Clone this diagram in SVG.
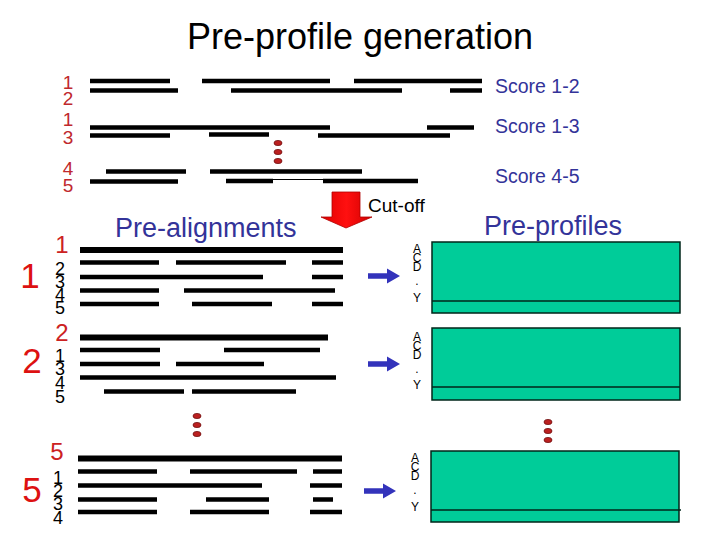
<svg xmlns="http://www.w3.org/2000/svg" width="720" height="540" viewBox="0 0 720 540">
<defs>
<style>
.t{font-family:"Liberation Sans",Arial,sans-serif}
.title{font-size:36px;fill:#000;text-anchor:middle}
.rn{font-size:19px;fill:#C0282D;text-anchor:middle}
.big{font-size:35px;fill:#DD1111;text-anchor:middle}
.sr{font-size:24px;fill:#CC2222;text-anchor:middle}
.bk{font-size:18px;fill:#000;text-anchor:middle}
.blue{fill:#333399}
.score{font-size:19.5px}
.head{font-size:27px}
.aa{font-size:12px;fill:#000;text-anchor:middle}
.seg{stroke:#000;stroke-width:4.5}
.thick{stroke:#000;stroke-width:6}
.prof{fill:#00CC99;stroke:#00261A;stroke-width:1.5}
.pl{stroke:#00261A;stroke-width:1.5}
.dot{fill:#BB2020;stroke:#701010;stroke-width:0.8}
.barrow{fill:#3333BB}
</style>
<linearGradient id="rg" x1="0" y1="0" x2="1" y2="0">
<stop offset="0" stop-color="#E00000"/>
<stop offset="0.5" stop-color="#FF1010"/>
<stop offset="1" stop-color="#D00000"/>
</linearGradient>
<g id="dots3">
<ellipse class="dot" cx="0" cy="0" rx="4" ry="2.6"/>
<ellipse class="dot" cx="0" cy="9" rx="4" ry="2.6"/>
<ellipse class="dot" cx="0" cy="18" rx="4" ry="2.6"/>
</g>
<path id="barr" class="barrow" d="M0,-2.8 H19 V-7.5 L32,0 L19,7.5 V2.8 H0 Z"/>
</defs>

<text class="t title" x="360" y="49">Pre-profile generation</text>

<g id="pairwise">
<text class="t rn" x="68" y="89">1</text>
<text class="t rn" x="68" y="105">2</text>
<text class="t rn" x="68" y="126">1</text>
<text class="t rn" x="68" y="144">3</text>
<text class="t rn" x="68" y="175">4</text>
<text class="t rn" x="68" y="192">5</text>
<g>
<line class="seg" x1="90" y1="81" x2="170" y2="81"/>
<line class="seg" x1="202" y1="81" x2="330" y2="81"/>
<line class="seg" x1="354" y1="81" x2="482" y2="81"/>
<line class="seg" x1="90" y1="90.5" x2="178" y2="90.5"/>
<line class="seg" x1="231" y1="90.5" x2="402" y2="90.5"/>
<line class="seg" x1="450" y1="90.5" x2="482" y2="90.5"/>
<line class="seg" x1="90" y1="127.5" x2="330" y2="127.5"/>
<line class="seg" x1="427" y1="127.5" x2="474" y2="127.5"/>
<line class="seg" x1="90" y1="135.5" x2="170" y2="135.5"/>
<line class="seg" x1="209" y1="134.5" x2="269" y2="134.5"/>
<line class="seg" x1="318" y1="135.5" x2="450" y2="135.5"/>
<line class="seg" x1="106" y1="171.5" x2="186" y2="171.5"/>
<line class="seg" x1="210" y1="171.5" x2="362" y2="171.5"/>
<line class="seg" x1="90" y1="181.5" x2="178" y2="181.5"/>
<line class="seg" x1="226" y1="181" x2="273" y2="181"/>
<line stroke="#000" stroke-width="1" x1="273" y1="179.5" x2="323" y2="179.5"/>
<line class="seg" x1="323" y1="181" x2="418" y2="181"/>
</g>
<use href="#dots3" x="278" y="143"/>
<text class="t blue score" x="495" y="93">Score 1-2</text>
<text class="t blue score" x="495" y="133">Score 1-3</text>
<text class="t blue score" x="495" y="183">Score 4-5</text>
</g>

<text class="t blue head" x="115" y="237">Pre-alignments</text>
<text class="t blue head" x="484" y="235">Pre-profiles</text>

<g id="block1">
<text class="t big" x="30" y="288">1</text>
<text class="t sr" x="62" y="253">1</text>
<text class="t bk" x="60" y="275">2</text>
<text class="t bk" x="60" y="288">3</text>
<text class="t bk" x="60" y="301">4</text>
<text class="t bk" x="60" y="314">5</text>
<line class="thick" x1="80" y1="250" x2="343" y2="250"/>
<line class="seg" x1="80" y1="262.5" x2="159" y2="262.5"/>
<line class="seg" x1="176" y1="262.5" x2="286" y2="262.5"/>
<line class="seg" x1="312" y1="262.5" x2="343" y2="262.5"/>
<line class="seg" x1="80" y1="277" x2="263" y2="277"/>
<line class="seg" x1="312" y1="277" x2="343" y2="277"/>
<line class="seg" x1="80" y1="290.5" x2="159" y2="290.5"/>
<line class="seg" x1="184" y1="290.5" x2="335" y2="290.5"/>
<line class="seg" x1="80" y1="304" x2="159" y2="304"/>
<line class="seg" x1="192" y1="304" x2="272" y2="304"/>
<line class="seg" x1="312" y1="304" x2="343" y2="304"/>
</g>

<g id="block2">
<text class="t big" x="32" y="373">2</text>
<text class="t sr" x="62" y="341">2</text>
<text class="t bk" x="60" y="362">1</text>
<text class="t bk" x="60" y="375">3</text>
<text class="t bk" x="60" y="389">4</text>
<text class="t bk" x="60" y="403">5</text>
<line class="thick" x1="80" y1="337.5" x2="328" y2="337.5"/>
<line class="seg" x1="80" y1="350" x2="160" y2="350"/>
<line class="seg" x1="224" y1="350" x2="320" y2="350"/>
<line class="seg" x1="80" y1="364" x2="160" y2="364"/>
<line class="seg" x1="176" y1="364" x2="264" y2="364"/>
<line class="seg" x1="80" y1="377.5" x2="336" y2="377.5"/>
<line class="seg" x1="104" y1="391.5" x2="184" y2="391.5"/>
<line class="seg" x1="192" y1="391.5" x2="296" y2="391.5"/>
</g>

<use href="#dots3" x="197" y="416"/>

<g id="block5">
<text class="t big" x="32" y="502">5</text>
<text class="t sr" x="57" y="460">5</text>
<text class="t bk" x="58" y="484">1</text>
<text class="t bk" x="58" y="497">2</text>
<text class="t bk" x="58" y="510">3</text>
<text class="t bk" x="58" y="524">4</text>
<line class="thick" x1="78" y1="458.5" x2="342" y2="458.5"/>
<line class="seg" x1="78" y1="471.5" x2="157" y2="471.5"/>
<line class="seg" x1="190" y1="471.5" x2="297" y2="471.5"/>
<line class="seg" x1="313" y1="471.5" x2="342" y2="471.5"/>
<line class="seg" x1="78" y1="485.5" x2="262" y2="485.5"/>
<line class="seg" x1="310" y1="485.5" x2="342" y2="485.5"/>
<line class="seg" x1="78" y1="499.5" x2="157" y2="499.5"/>
<line class="seg" x1="206" y1="499.5" x2="269" y2="499.5"/>
<line class="seg" x1="313" y1="499.5" x2="333" y2="499.5"/>
<line class="seg" x1="78" y1="512" x2="157" y2="512"/>
<line class="seg" x1="190" y1="512" x2="269" y2="512"/>
<line class="seg" x1="310" y1="512" x2="342" y2="512"/>
</g>

<g id="profile1">
<rect class="prof" x="432" y="242" width="248" height="71"/>
<line class="pl" x1="432" y1="301" x2="680" y2="301"/>
<text class="t aa" x="417" y="253">A</text>
<text class="t aa" x="417" y="262">C</text>
<text class="t aa" x="417" y="271">D</text>
<text class="t aa" x="417" y="285">.</text>
<text class="t aa" x="417" y="302">Y</text>
</g>

<g id="profile2">
<rect class="prof" x="432" y="328" width="248" height="72"/>
<line class="pl" x1="432" y1="387" x2="680" y2="387"/>
<text class="t aa" x="417" y="341">A</text>
<text class="t aa" x="417" y="350">C</text>
<text class="t aa" x="417" y="359">D</text>
<text class="t aa" x="417" y="373">.</text>
<text class="t aa" x="417" y="389">Y</text>
</g>

<use href="#dots3" x="548" y="422"/>

<g id="profile5">
<rect class="prof" x="431" y="451" width="248" height="71"/>
<line class="pl" x1="431" y1="510" x2="681" y2="510"/>
<text class="t aa" x="415" y="462">A</text>
<text class="t aa" x="415" y="471">C</text>
<text class="t aa" x="415" y="480">D</text>
<text class="t aa" x="415" y="494">.</text>
<text class="t aa" x="415" y="511">Y</text>
</g>

<g id="connectors">
<path d="M332,192 H360 V217 H372 L346,228 L321,217 H332 Z" fill="url(#rg)" stroke="#B00000" stroke-width="0.8"/>
<use href="#barr" x="368" y="276"/>
<use href="#barr" x="368" y="364"/>
<use href="#barr" x="364" y="491"/>
</g>
<text class="t" x="368" y="212" font-size="19" fill="#000">Cut-off</text>
</svg>
